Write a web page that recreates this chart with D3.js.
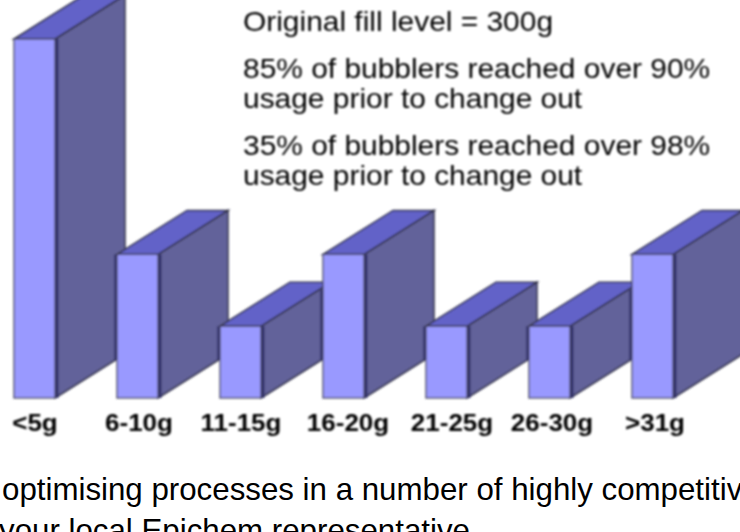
<!DOCTYPE html>
<html>
<head>
<meta charset="utf-8">
<script src="https://cdn.jsdelivr.net/npm/d3@7"></script>
<style>
  html, body { margin: 0; padding: 0; background: #fff; overflow: hidden; }
  text { font-family: "Liberation Sans", Arial, sans-serif; }
</style>
</head>
<body>
<div id="chart"></div>
<script>
const CATEGORIES = ["<5g", "6-10g", "11-15g", "16-20g", "21-25g", "26-30g", ">31g"];
const VALUES = [5, 2, 1, 2, 1, 1, 2];
const NOTES = [
  "Original fill level = 300g",
  "85% of bubblers reached over 90%",
  "usage prior to change out",
  "35% of bubblers reached over 98%",
  "usage prior to change out",
];
const BODY_LINES = [
  "optimising processes in a number of highly competitiv",
  "your local Epichem representative",
];

const width = 740;
const height = 532;
const baseline = 398;
const depthX = 70;
const depthY = 44;

const svg = d3
  .select("#chart")
  .append("svg")
  .attr("width", width)
  .attr("height", height)
  .attr("viewBox", [0, 0, width, height]);

// source picture is a soft upscaled gif, so blur everything a little
const blur = svg.append("defs").append("filter").attr("id", "soft");
blur.append("feGaussianBlur").attr("stdDeviation", 0.8);

const x = d3
  .scaleBand()
  .domain(CATEGORIES)
  .range([14, 674])
  .paddingInner(0.592)
  .paddingOuter(0)
  .align(0);

const y = d3.scaleLinear().domain([0, 5]).range([baseline, 39]);

const chart = svg.append("g").attr("filter", "url(#soft)");

const rows = CATEGORIES.map((category, i) => ({ category, value: VALUES[i], index: i }));

const bars = chart.selectAll("g.bar").data(rows).join("g").attr("class", "bar");

// side face
bars
  .append("path")
  .attr("fill", "#62629a")
  .attr("stroke", "#33334a")
  .attr("stroke-width", 1.5)
  .attr("d", (d) => {
    const r = x(d.category) + x.bandwidth() - 1;
    return `M${r},${baseline}L${r + depthX},${baseline - depthY}L${r + depthX},${y(d.value) - depthY}L${r},${y(d.value)}Z`;
  });

// top face
bars
  .append("path")
  .attr("fill", "#6262c8")
  .attr("stroke", "#33334a")
  .attr("stroke-width", 1.5)
  .attr("d", (d) => {
    const l = x(d.category);
    const r = l + x.bandwidth() - 1;
    const t = y(d.value);
    return `M${l},${t}L${l + depthX},${t - depthY}L${r + depthX},${t - depthY}L${r},${t}Z`;
  });

// dark edge running down the side of the front face
bars
  .append("rect")
  .attr("x", (d) => x(d.category) + x.bandwidth() - 1)
  .attr("y", (d) => y(d.value))
  .attr("width", 3.5)
  .attr("height", (d) => baseline - y(d.value))
  .attr("fill", "#33336b");

// shadow where a bar covers the side face of the one before it
function shadowTop(d) {
  if (d.index === 0) return baseline;
  const prev = rows[d.index - 1];
  const prevRight = x(prev.category) + x.bandwidth();
  const rise = (depthY * (x(d.category) - 3 - prevRight)) / depthX;
  return Math.max(y(d.value), y(prev.value) - rise);
}

bars
  .append("rect")
  .attr("x", (d) => x(d.category) - 3)
  .attr("y", shadowTop)
  .attr("width", 3)
  .attr("height", (d) => Math.max(0, baseline - 38 - shadowTop(d)))
  .attr("fill", "#33336b")
  .attr("opacity", 0.85);

// front face
bars
  .append("rect")
  .attr("x", (d) => x(d.category))
  .attr("y", (d) => y(d.value))
  .attr("width", x.bandwidth() - 1)
  .attr("height", (d) => baseline - y(d.value))
  .attr("fill", "#9999ff")
  .attr("stroke", "#44445a")
  .attr("stroke-width", 1.3);

const tickX = [35, 139, 241, 348, 452, 552, 655];
chart
  .selectAll("text.tick")
  .data(rows)
  .join("text")
  .attr("class", "tick")
  .attr("transform", (d, i) => `translate(${tickX[i]},431) scale(1.13,1)`)
  .attr("text-anchor", "middle")
  .attr("font-size", 23)
  .attr("font-weight", "bold")
  .attr("fill", "#000")
  .text((d) => d.category);

const noteY = [31, 78, 108, 155, 185];
chart
  .selectAll("text.note")
  .data(NOTES)
  .join("text")
  .attr("class", "note")
  .attr("transform", (d, i) => `translate(243,${noteY[i]}) scale(1.108,1)`)
  .attr("font-size", 27)
  .attr("fill", "#000")
  .text((d) => d);

const bodyY = [500, 541];
const bodyX = [2, -1];
svg
  .selectAll("text.body")
  .data(BODY_LINES)
  .join("text")
  .attr("class", "body")
  .attr("transform", (d, i) => `translate(${bodyX[i]},${bodyY[i]}) scale(1.009,1)`)
  .attr("font-size", 31)
  .attr("fill", "#000")
  .text((d) => d);
</script>
</body>
</html>
